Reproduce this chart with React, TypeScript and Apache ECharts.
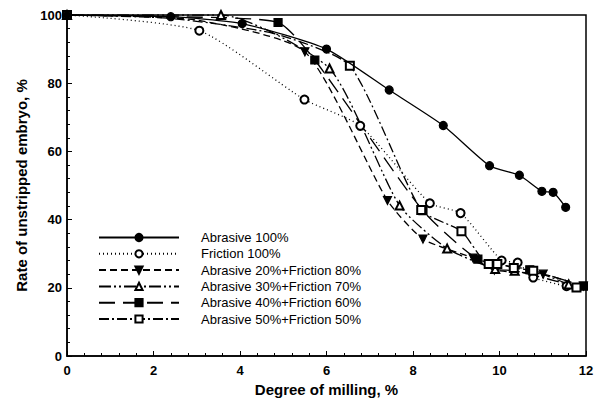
import React, { useEffect, useRef } from "react";
import * as echarts from "echarts";

const xTicks = [0, 2, 4, 6, 8, 10, 12];
const yTicks = [0, 20, 40, 60, 80, 100];

// [x, y, showMarker(1/0)]
const abrasive100: number[][] = [
  [0, 100, 1], [2.4, 99.5, 1], [4.05, 97.5, 1], [6.0, 90, 1], [7.45, 78, 1], [8.7, 67.6, 1],
  [9.77, 55.8, 1], [10.46, 53, 1], [10.98, 48.3, 1], [11.24, 48, 1], [11.53, 43.6, 1],
];
const friction100: number[][] = [
  [0, 100, 1], [3.06, 95.4, 1], [5.49, 75.2, 1], [6.78, 67.5, 1], [8.39, 44.8, 1], [9.1, 41.9, 1],
  [10.05, 28, 1], [10.42, 27.4, 1], [10.78, 23, 1], [11.55, 20.5, 1],
];
const abr20fr80: number[][] = [
  [0, 100, 1], [3.0, 98.5, 0], [5.5, 89.2, 1], [7.41, 45.6, 1], [8.23, 34.3, 1], [9.39, 28.7, 1],
  [9.88, 25.2, 1], [11.01, 24, 1], [11.94, 20.5, 1],
];
const abr30fr70: number[][] = [
  [0, 100, 1], [3.56, 100, 1], [6.07, 84.3, 1], [7.69, 44.1, 1], [8.79, 31.5, 1], [9.9, 25.5, 1],
  [10.35, 25, 1], [11.6, 21, 1],
];
const abr40fr60: number[][] = [
  [0, 100, 1], [2.4, 99.5, 0], [4.88, 97.8, 1], [5.73, 86.8, 1], [8.23, 42.6, 1], [9.5, 28.4, 1],
  [10.7, 25.3, 1], [11.94, 20.5, 1],
];
const abr50fr50: number[][] = [
  [0, 100, 1], [2.4, 99, 0], [4.8, 94.5, 0], [6.54, 85.1, 1], [8.19, 42.8, 1], [9.12, 36.6, 1],
  [9.75, 27, 1], [9.95, 27, 1], [10.33, 25.8, 1], [10.78, 25, 1], [11.78, 20.1, 1],
];

const seriesNames = [
  "Abrasive 100%",
  "Friction 100%",
  "Abrasive 20%+Friction 80%",
  "Abrasive 30%+Friction 70%",
  "Abrasive 40%+Friction 60%",
  "Abrasive 50%+Friction 50%",
];

export default function App() {
  const ref = useRef<HTMLDivElement>(null);
  useEffect(() => {
    if (!ref.current) return;
    const chart = echarts.init(ref.current, null, { renderer: "svg" });
    const font = "'Liberation Sans', Arial, sans-serif";
    const mk = (
      name: string,
      pts: number[][],
      symbol: string,
      dash: any,
      extra: any = {}
    ) => ({
      type: "line",
      name,
      data: pts.map((p) =>
        p[2] ? { value: [p[0], p[1]] } : { value: [p[0], p[1]], symbol: "none" }
      ),
      symbol,
      symbolSize: 8,
      smooth: 0.2,
      lineStyle: { color: "#000", width: 1.3, type: dash },
      itemStyle: { color: "#000", borderColor: "#000", borderWidth: 1.2 },
      z: 2,
      ...extra,
    });
    chart.setOption({
      animation: false,
      backgroundColor: "#fff",
      grid: {
        left: 67,
        top: 15,
        right: 19,
        bottom: 46,
        show: true,
        borderColor: "#000",
        borderWidth: 1.5,
      },
      legend: {
        orient: "vertical",
        left: 93,
        top: 226,
        itemWidth: 80,
        itemHeight: 9,
        itemGap: 3.3,
        textStyle: {
          fontFamily: font,
          fontSize: 13,
          color: "#000",
          lineHeight: 9,
          padding: [0, 0, 0, 17],
        },
        data: seriesNames,
      },
      xAxis: {
        type: "value",
        min: xTicks[0],
        max: xTicks[xTicks.length - 1],
        interval: 2,
        name: "Degree of milling, %",
        nameLocation: "middle",
        nameGap: 26,
        nameTextStyle: { fontFamily: font, fontSize: 15, fontWeight: "bold", color: "#000" },
        axisLine: { lineStyle: { color: "#000", width: 1.5 } },
        axisTick: { inside: true, length: 5, lineStyle: { color: "#000" } },
        minorTick: { show: true, splitNumber: 5, length: 3, lineStyle: { color: "#000" } },
        splitLine: { show: false },
        axisLabel: { fontFamily: font, fontSize: 13, fontWeight: "bold", color: "#000", margin: 8 },
      },
      yAxis: {
        type: "value",
        min: yTicks[0],
        max: yTicks[yTicks.length - 1],
        interval: 20,
        name: "Rate of unstripped embryo, %",
        nameLocation: "middle",
        nameGap: 35,
        nameRotate: 90,
        nameTextStyle: { fontFamily: font, fontSize: 15, fontWeight: "bold", color: "#000" },
        axisLine: { show: true, lineStyle: { color: "#000", width: 1.5 } },
        axisTick: { show: true, inside: true, length: 5, lineStyle: { color: "#000" } },
        minorTick: { show: true, splitNumber: 5, length: 3, lineStyle: { color: "#000" } },
        splitLine: { show: false },
        axisLabel: { fontFamily: font, fontSize: 13, fontWeight: "bold", color: "#000", margin: 5 },
      },
      series: [
        mk(seriesNames[0], abrasive100, "circle", "solid", { z: 4 }),
        mk(seriesNames[1], friction100, "emptyCircle", [1, 3]),
        mk(seriesNames[2], abr20fr80, "triangle", [7, 4], { symbolRotate: 180 }),
        mk(seriesNames[3], abr30fr70, "emptyTriangle", [12, 3, 2, 3, 2, 3]),
        mk(seriesNames[4], abr40fr60, "rect", [16, 8]),
        mk(seriesNames[5], abr50fr50, "emptyRect", [10, 3, 2, 3]),
      ],
    });
    return () => chart.dispose();
  }, []);
  return (
    <div
      ref={ref}
      style={{ position: "fixed", left: 0, top: 0, width: 605, height: 402 }}
    />
  );
}
